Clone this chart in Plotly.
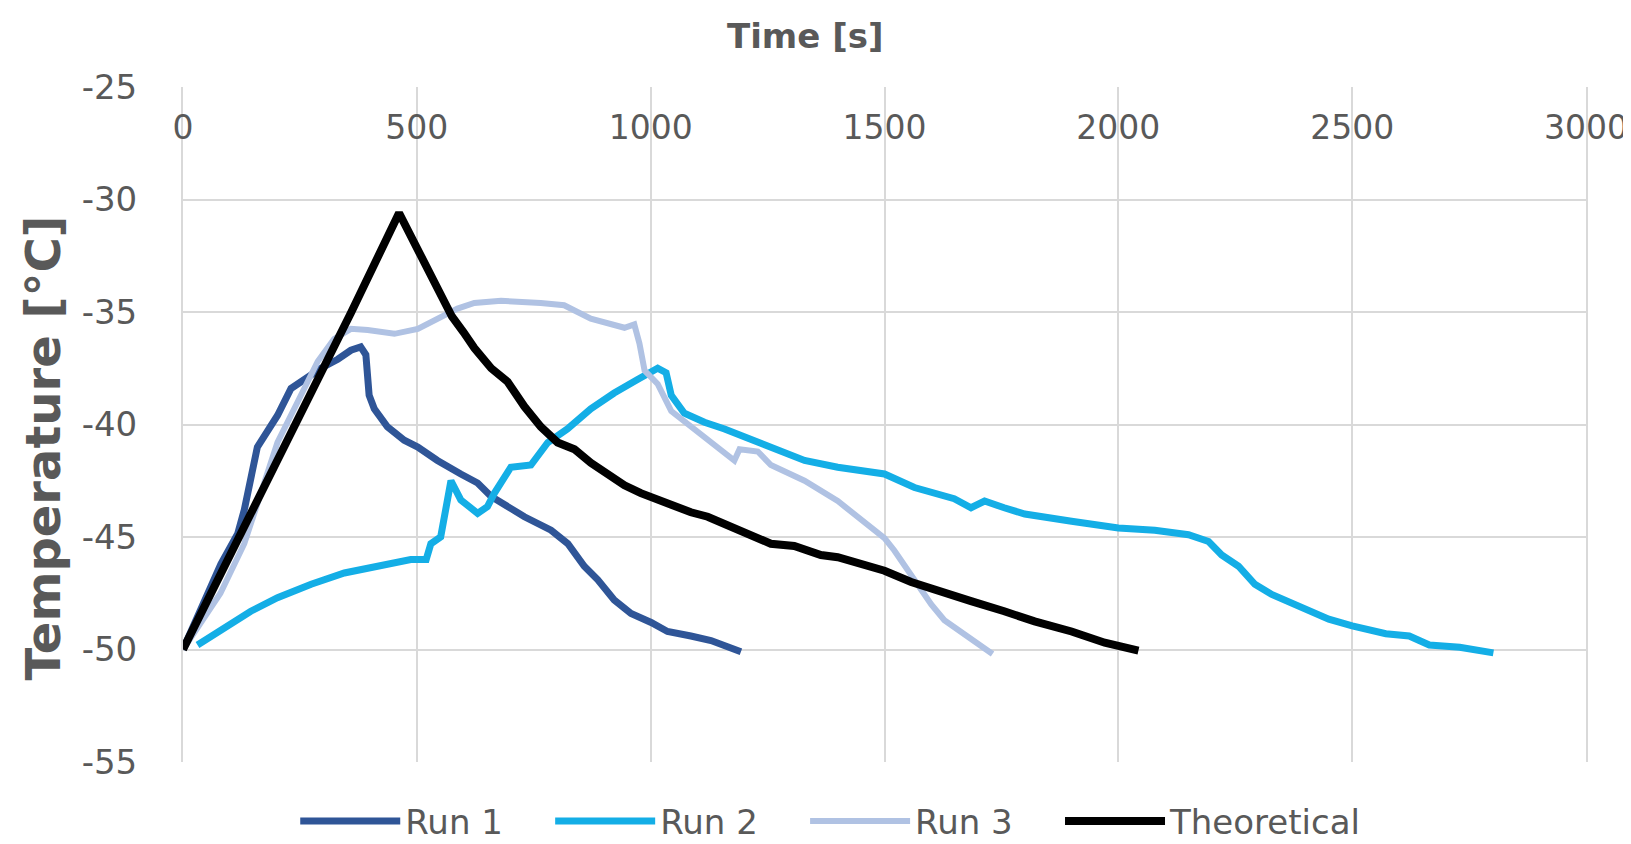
import plotly.graph_objects as go

# ---------------- data ----------------
run1_t = [0, 81, 117, 131, 159, 174, 202, 231, 259, 295, 331, 359, 380, 391, 398, 409, 437, 473,
          502, 544, 594, 630, 659, 730, 787, 823, 858, 887, 922, 958, 1001, 1036, 1086, 1129, 1193]
run1_T = [-50, -46.2, -44.85, -43.8, -41.0, -40.5, -39.6, -38.4, -38.0, -37.5, -37.1, -36.7, -36.55, -36.9,
          -38.7, -39.3, -40.1, -40.7, -41.0, -41.6, -42.2, -42.6, -43.2, -44.1, -44.7, -45.3, -46.3, -46.9,
          -47.8, -48.4, -48.8, -49.2, -49.4, -49.6, -50.1]

run2_t = [31, 95, 145, 202, 274, 345, 416, 487, 520, 530, 551, 559, 573, 594, 630, 651, 666, 701, 744,
          780, 822, 872, 922, 972, 1001, 1015, 1033, 1044, 1072, 1115, 1158, 1193, 1257, 1329, 1400, 1500,
          1564, 1649, 1685, 1714, 1756, 1800, 1900, 2000, 2078, 2150, 2193, 2221, 2257, 2292, 2328, 2392,
          2450, 2500, 2572, 2622, 2665, 2730, 2802]
run2_T = [-49.8, -49.0, -48.3, -47.7, -47.1, -46.6, -46.3, -46.0, -46.0, -45.3, -45.0, -44.1, -42.5, -43.35,
          -43.95, -43.65, -43.05, -41.9, -41.8, -40.8, -40.2, -39.3, -38.6, -38.0, -37.7, -37.5, -37.7, -38.7,
          -39.5, -39.9, -40.2, -40.5, -41.06, -41.6, -41.9, -42.2, -42.8, -43.3, -43.7, -43.4, -43.7, -43.98,
          -44.3, -44.6, -44.7, -44.9, -45.2, -45.8, -46.3, -47.1, -47.55, -48.1, -48.65, -48.95, -49.3, -49.4,
          -49.8, -49.9, -50.15]

run3_t = [0, 80, 131, 166, 202, 245, 288, 323, 359, 395, 452, 502, 559, 587, 623, 680, 765, 815, 872, 922,
          944, 965, 976, 987, 1015, 1044, 1086, 1129, 1179, 1190, 1229, 1257, 1329, 1400, 1472, 1500, 1521,
          1557, 1600, 1628, 1685, 1731]
run3_T = [-50, -47.5, -45.3, -43.1, -40.8, -39.0, -37.2, -36.2, -35.75, -35.8, -35.97, -35.75, -35.15, -34.85,
          -34.6, -34.5, -34.6, -34.7, -35.3, -35.6, -35.7, -35.55, -36.4, -37.6, -38.2, -39.4, -40.1, -40.8,
          -41.6, -41.1, -41.2, -41.8, -42.5, -43.4, -44.6, -45.05, -45.6, -46.7, -48.0, -48.7, -49.5, -50.2]

theo_t = [0, 130, 260, 360, 462, 520, 575, 600, 623, 659, 694, 730, 765, 801, 837, 872, 908, 944, 979,
          1015, 1051, 1086, 1122, 1158, 1193, 1222, 1257, 1307, 1364, 1400, 1436, 1500, 1557, 1614, 1685,
          1756, 1821, 1900, 1971, 2043]
theo_T = [-50, -44.6, -39.2, -35.0, -30.6, -32.9, -35.2, -35.9, -36.6, -37.5, -38.1, -39.2, -40.1,
          -40.8, -41.1, -41.7, -42.2, -42.7, -43.05, -43.35, -43.6, -43.9, -44.1, -44.4, -44.7, -45.0, -45.3,
          -45.4, -45.8, -45.9, -46.1, -46.5, -47.0, -47.4, -47.85, -48.3, -48.75, -49.2, -49.7, -50.05]

x_ticks = [0, 500, 1000, 1500, 2000, 2500, 3000]
y_ticks = [-55, -50, -45, -40, -35, -30, -25]
y_tick_text = ["-55", "-50", "-45", "-40", "-35", "-30", "-25"]

series = [
    ("Run 1", run1_t, run1_T, "#2F5597", 7),
    ("Run 2", run2_t, run2_T, "#14AEE6", 7),
    ("Run 3", run3_t, run3_T, "#B0C2E3", 6),
    ("Theoretical", theo_t, theo_T, "#000000", 8),
]

GREY = "#595959"
GRID = "#D9D9D9"
FONT = "DejaVu Sans"

legend_ids = ["legend", "legend2", "legend3", "legend4"]
legend_x = [0.080, 0.2617, 0.4434, 0.6251]

fig = go.Figure()
for (name, t, T, color, w), lid in zip(series, legend_ids):
    fig.add_trace(go.Scatter(x=t, y=T, mode="lines", name=name, legend=lid,
                             line=dict(color=color, width=w)))

legend_common = dict(orientation="h", xanchor="left", y=-0.088, yanchor="middle",
                     font=dict(family=FONT, size=34, color=GREY),
                     itemwidth=100, bgcolor="rgba(0,0,0,0)")
legend_layout = {lid: dict(x=lx, **legend_common) for lid, lx in zip(legend_ids, legend_x)}

fig.update_layout(
    width=1631, height=844, autosize=False,
    paper_bgcolor="white", plot_bgcolor="white",
    margin=dict(l=175, r=53, t=79, b=90, autoexpand=False),
    font=dict(family=FONT, size=33, color=GREY),
    showlegend=True,
    xaxis=dict(range=[0, 3000], tickvals=x_ticks, side="top", anchor="free", position=0.913,
               showgrid=True, gridcolor=GRID, gridwidth=2, zeroline=False, showline=False,
               ticks="", tickfont=dict(family=FONT, size=33, color=GREY)),
    yaxis=dict(range=[-55, -25], tickvals=y_ticks, ticktext=y_tick_text,
               showgrid=True, gridcolor=GRID, gridwidth=2,
               zeroline=False, showline=True, linecolor=GRID, linewidth=2, mirror=True,
               ticks="", ticklabelstandoff=37, tickfont=dict(family=FONT, size=34, color=GREY)),
    annotations=[
        dict(text="<b>Time [s]</b>", xref="paper", yref="paper", x=0.444, y=1.0756,
             xanchor="center", yanchor="middle", showarrow=False,
             font=dict(family=FONT, size=34, color=GREY)),
        dict(text="<b>Temperature [°C]</b>", xref="paper", yref="paper", x=-0.0995, y=0.465,
             xanchor="center", yanchor="middle", showarrow=False, textangle=-90,
             font=dict(family=FONT, size=48, color=GREY)),
    ],
    **legend_layout,
)

fig.write_html("out.html")
